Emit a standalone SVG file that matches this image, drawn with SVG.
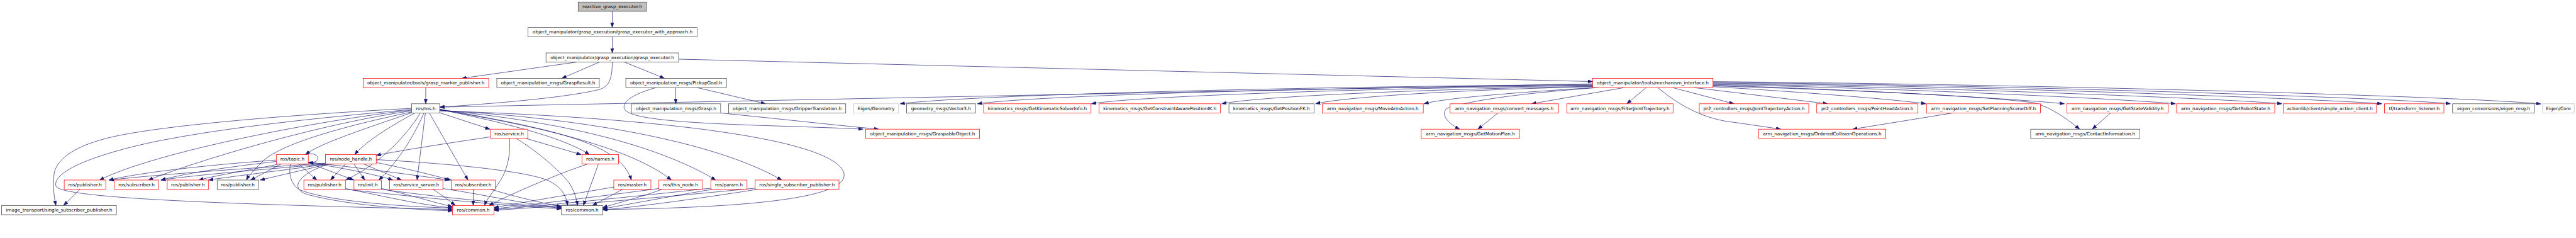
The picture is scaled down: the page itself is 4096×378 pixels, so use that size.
<svg xmlns="http://www.w3.org/2000/svg" width="4096" height="378" viewBox="0 0 4096 378">
<style>
.n rect{fill:#fff;stroke:#404040;stroke-width:1.3}
.n.r rect{stroke:#ff0000}
.n.g rect{stroke:#bfbfbf}
.n.root rect{fill:#bfbfbf}
.n text{font-family:"DejaVu Sans",sans-serif;font-size:12.7px;text-anchor:middle;dominant-baseline:central;fill:#000}
#edges path{fill:none;stroke:#191970;stroke-width:1.2;marker-end:url(#a)}
</style>
<defs>
<marker id="a" markerUnits="userSpaceOnUse" markerWidth="14" markerHeight="10" refX="13" refY="4.7" orient="auto"><path d="M0,0L13,4.7L0,9.4z" fill="#191970" stroke="#191970" stroke-width="0.8"/></marker>
</defs>
<rect width="4096" height="378" fill="#fff"/>
<g transform="scale(0.57367)">
<g id="edges">
<path d="M1697,31.3L1697,76.1"/>
<path d="M1697,101.7L1697,146.5"/>
<path d="M1597,172.1L1280,216.9"/>
<path d="M1661,172.1L1557,216.9"/>
<path d="M1697,172.1C1697,215 1690,240 1660,248C1580,268 1400,285 1218.7,296.5"/>
<path d="M1731,172.1L1842,216.9"/>
<path d="M1881,163.8L4414.5,225.8"/>
<path d="M1180,242.5L1180,287.3"/>
<path d="M1873,242.5L1873,287.3"/>
<path d="M1932,242.5L2122,287.3"/>
<path d="M1819,242.5C1760,258 1725,280 1730,300C1738,330 1900,340 2100,347C2250,352 2350,355 2392,357.7"/>
<path d="M1997,312.9C2150,328 2330,348 2436,357.7"/>
<path d="M4414.5,232L1218.7,296.6"/>
<path d="M4414.5,234C3600,240 2700,262 2494.8,287.3"/>
<path d="M4414.5,236C3700,242 2900,262 2709,287.3"/>
<path d="M4414.5,237C3800,244 3150,266 3025,287.3"/>
<path d="M4414.5,239C3900,248 3480,268 3386.4,287.3"/>
<path d="M4414.5,240C4000,250 3720,270 3646.5,287.3"/>
<path d="M4420,242.5C4200,256 4000,272 3947,287.3"/>
<path d="M4430,242.5C4300,252 4100,270 4010,300C3990,320 4020,345 4046,357.7"/>
<path d="M4501.8,242.5L4245,287.3"/>
<path d="M4563,242.5L4509,287.3"/>
<path d="M4595,242.5C4640,280 4700,320 4780,335C4850,345 4900,352 4936,357.7"/>
<path d="M4635.7,242.5L4806,287.3"/>
<path d="M4695,242.5L5066,287.3"/>
<path d="M4747.9,240C5000,255 5250,275 5338,287.3"/>
<path d="M4747.9,238C5100,248 5500,265 5640,285C5690,300 5730,330 5764.5,357.7"/>
<path d="M4747.9,236C5200,250 5600,275 5722,287.3"/>
<path d="M4747.9,234C5300,245 5900,275 6030,287.3"/>
<path d="M4747.9,232C5400,242 6200,275 6325,287.3"/>
<path d="M4747.9,230C5500,238 6450,275 6602,287.3"/>
<path d="M4747.9,228C5600,236 6650,272 6792,287.3"/>
<path d="M4747.9,226C5700,234 6850,268 7042.5,287.8"/>
<path d="M5412,312.9L5135,357.7"/>
<path d="M5850,312.9L5799,357.7"/>
<path d="M4152,312.9L4096,357.7"/>
<path d="M1141.1,300C800,318 480,345 330,375C230,395 160,430 150,480C146,520 150,545 155,568.9"/>
<path d="M1141.1,303C900,325 640,350 430,392C260,428 145,475 155,515C165,548 600,565 1254,580"/>
<path d="M1141.1,305C900,330 430,420 276,498.5"/>
<path d="M1141.1,307C900,340 560,440 411,498.5"/>
<path d="M1141.1,310C950,350 770,400 725,450C705,470 690,485 683,498.5"/>
<path d="M1141.1,312C1000,360 880,400 847,428.1"/>
<path d="M1150,312.9C1080,350 1010,395 983,428.1"/>
<path d="M1165,312.9C1130,370 1060,450 958,498.5"/>
<path d="M1175,312.9C1150,370 1110,440 1050,498.5"/>
<path d="M1179,312.9L1156,498.5"/>
<path d="M1190,312.9L1297,498.5"/>
<path d="M1218.7,312L1358,357.7"/>
<path d="M1218.7,303C1400,340 1560,380 1634,428.1"/>
<path d="M1218.7,302C1550,360 1720,400 1750,498.5"/>
<path d="M1218.7,304C1500,350 1750,410 1861,498.5"/>
<path d="M1218.7,305C1550,335 1820,400 1984,498.5"/>
<path d="M1218.7,306C1600,325 1980,390 2167,498.5"/>
<path d="M1218.7,307C1800,325 2280,380 2335,470C2380,545 2100,575 1670.3,580"/>
<path d="M766.5,443C600,455 400,475 302,498.5"/>
<path d="M766.5,447C650,460 520,478 446,498.5"/>
<path d="M775,453.7C700,470 600,485 551,498.5"/>
<path d="M780,453.7L694.5,498.5"/>
<path d="M828,453.7L878,498.5"/>
<path d="M854.5,451L981,498.5"/>
<path d="M854.5,450C950,465 1050,485 1089,498.5"/>
<path d="M854.5,449C1000,465 1150,485 1245,498.5"/>
<path d="M843,428.1C870,420 885,432 880,442C876,449 866,451 855,449"/>
<path d="M805,453.7C800,480 805,510 830,525C900,555 1100,572 1254,576"/>
<path d="M902.3,452C700,465 450,482 302,498.5"/>
<path d="M905,453.7C750,468 550,483 446,498.5"/>
<path d="M910,453.7C800,470 650,487 578,498.5"/>
<path d="M912.6,453.7L721,498.5"/>
<path d="M958,453.7L916,498.5"/>
<path d="M981,453.7L1011,498.5"/>
<path d="M1007,453.7L1113,498.5"/>
<path d="M1042.8,450C1120,465 1200,485 1250,498.5"/>
<path d="M912,453.7C830,480 800,520 850,538C950,565 1100,578 1254,584"/>
<path d="M1042.8,442C1200,450 1450,470 1520,500C1560,520 1570,545 1573,568.9"/>
<path d="M1359.5,379C1250,395 1120,415 1042.8,430"/>
<path d="M1458,383.3L1611,428.1"/>
<path d="M1412,383.3C1415,420 1410,470 1380,510C1365,535 1350,550 1343,568.9"/>
<path d="M1431,383.3C1490,420 1550,470 1580,510C1592,530 1598,550 1601,568.9"/>
<path d="M1630,453.7C1550,480 1420,535 1355,568.9"/>
<path d="M1658.8,453.7L1617,568.9"/>
<path d="M1701.3,518C1600,535 1450,560 1369.1,575"/>
<path d="M1726,524.1L1642,568.9"/>
<path d="M1826.3,522C1650,545 1450,570 1369.1,578"/>
<path d="M1835,524.1C1780,545 1700,565 1670.3,575"/>
<path d="M1970.2,521C1750,545 1450,575 1369.1,580"/>
<path d="M1975,524.1C1850,545 1720,570 1670.3,578"/>
<path d="M2093.1,521C1800,550 1450,578 1369.1,582"/>
<path d="M2100,524.1C1950,548 1750,575 1670.3,581"/>
<path d="M957.4,522C1050,540 1150,565 1254,576"/>
<path d="M957.4,524C1150,545 1400,570 1556.2,578"/>
<path d="M1057.3,522C1120,535 1200,560 1254,572"/>
<path d="M1057.3,524C1200,545 1420,565 1556.2,576"/>
<path d="M1200,524.1C1225,540 1245,555 1262,568.9"/>
<path d="M1227.5,522C1350,540 1450,565 1556.2,574"/>
<path d="M1311.7,524.1L1311.7,568.9"/>
<path d="M1360,524.1C1430,545 1500,562 1556.2,572"/>
<path d="M222,524.1L176,568.9"/>
</g>
<g id="n_root" class="n root"><rect x="1602.5" y="5.7" width="189.4" height="25.6"/><text x="1697.2" y="18.5">reactive_grasp_executor.h</text></g>
<g id="n_gewa" class="n"><rect x="1463.6" y="76.1" width="468.7" height="25.6"/><text x="1698" y="88.9">object_manipulator/grasp_execution/grasp_executor_with_approach.h</text></g>
<g id="n_ge" class="n"><rect x="1513.4" y="146.5" width="367.6" height="25.6"/><text x="1697.2" y="159.3">object_manipulator/grasp_execution/grasp_executor.h</text></g>
<g id="n_gmp" class="n r"><rect x="1006.4" y="216.9" width="348.2" height="25.6"/><text x="1180.5" y="229.7">object_manipulator/tools/grasp_marker_publisher.h</text></g>
<g id="n_gr" class="n"><rect x="1377.1" y="216.9" width="284" height="25.6"/><text x="1519.1" y="229.7">object_manipulation_msgs/GraspResult.h</text></g>
<g id="n_pg" class="n"><rect x="1734.6" y="216.9" width="278.9" height="25.6"/><text x="1874" y="229.7">object_manipulation_msgs/PickupGoal.h</text></g>
<g id="n_mi" class="n r"><rect x="4414.5" y="216.9" width="333.4" height="25.6"/><text x="4581.2" y="229.7">object_manipulator/tools/mechanism_interface.h</text></g>
<g id="n_ros" class="n"><rect x="1141.1" y="287.3" width="77.6" height="25.6"/><text x="1179.9" y="300.1">ros/ros.h</text></g>
<g id="n_grasp" class="n"><rect x="1750.3" y="287.3" width="247.1" height="25.6"/><text x="1873.9" y="300.1">object_manipulation_msgs/Grasp.h</text></g>
<g id="n_gt" class="n"><rect x="2019.6" y="287.3" width="324.5" height="25.6"/><text x="2181.9" y="300.1">object_manipulation_msgs/GripperTranslation.h</text></g>
<g id="n_eg" class="n g"><rect x="2366.3" y="287.3" width="124.3" height="25.6"/><text x="2428.5" y="300.1">Eigen/Geometry</text></g>
<g id="n_v3" class="n"><rect x="2512.8" y="287.3" width="191" height="25.6"/><text x="2608.3" y="300.1">geometry_msgs/Vector3.h</text></g>
<g id="n_gksi" class="n r"><rect x="2726.3" y="287.3" width="297.7" height="25.6"/><text x="2875.2" y="300.1">kinematics_msgs/GetKinematicSolverInfo.h</text></g>
<g id="n_gcapik" class="n r"><rect x="3046.6" y="287.3" width="336" height="25.6"/><text x="3214.6" y="300.1">kinematics_msgs/GetConstraintAwarePositionIK.h</text></g>
<g id="n_gpfk" class="n"><rect x="3406.3" y="287.3" width="236" height="25.6"/><text x="3524.3" y="300.1">kinematics_msgs/GetPositionFK.h</text></g>
<g id="n_maa" class="n r"><rect x="3664.9" y="287.3" width="280.1" height="25.6"/><text x="3805" y="300.1">arm_navigation_msgs/MoveArmAction.h</text></g>
<g id="n_cm" class="n r"><rect x="4019.3" y="287.3" width="300.7" height="25.6"/><text x="4169.7" y="300.1">arm_navigation_msgs/convert_messages.h</text></g>
<g id="n_fjt" class="n r"><rect x="4342.6" y="287.3" width="294.7" height="25.6"/><text x="4490" y="300.1">arm_navigation_msgs/FilterJointTrajectory.h</text></g>
<g id="n_jta" class="n r"><rect x="4710" y="287.3" width="303.4" height="25.6"/><text x="4861.7" y="300.1">pr2_controllers_msgs/JointTrajectoryAction.h</text></g>
<g id="n_pha" class="n r"><rect x="5035.5" y="287.3" width="280.6" height="25.6"/><text x="5175.8" y="300.1">pr2_controllers_msgs/PointHeadAction.h</text></g>
<g id="n_spsd" class="n r"><rect x="5339.8" y="287.3" width="316" height="25.6"/><text x="5497.8" y="300.1">arm_navigation_msgs/SetPlanningSceneDiff.h</text></g>
<g id="n_gsv" class="n r"><rect x="5728.9" y="287.3" width="280.4" height="25.6"/><text x="5869.1" y="300.1">arm_navigation_msgs/GetStateValidity.h</text></g>
<g id="n_grs" class="n r"><rect x="6033" y="287.3" width="272.1" height="25.6"/><text x="6169" y="300.1">arm_navigation_msgs/GetRobotState.h</text></g>
<g id="n_sac" class="n r"><rect x="6328.9" y="287.3" width="258.2" height="25.6"/><text x="6458" y="300.1">actionlib/client/simple_action_client.h</text></g>
<g id="n_tl" class="n r"><rect x="6609.3" y="287.3" width="164.6" height="25.6"/><text x="6691.6" y="300.1">tf/transform_listener.h</text></g>
<g id="n_em" class="n"><rect x="6798" y="287.3" width="227.3" height="25.6"/><text x="6911.7" y="300.1">eigen_conversions/eigen_msg.h</text></g>
<g id="n_ec" class="n g"><rect x="7047.5" y="287.3" width="87.5" height="25.6"/><text x="7091.3" y="300.1">Eigen/Core</text></g>
<g id="n_srv" class="n r"><rect x="1359.5" y="357.7" width="103.4" height="25.6"/><text x="1411.2" y="370.5">ros/service.h</text></g>
<g id="n_go" class="n r"><rect x="2399.5" y="357.7" width="315.4" height="25.6"/><text x="2557.2" y="370.5">object_manipulation_msgs/GraspableObject.h</text></g>
<g id="n_gmpl" class="n r"><rect x="3939.3" y="357.7" width="272.4" height="25.6"/><text x="4075.5" y="370.5">arm_navigation_msgs/GetMotionPlan.h</text></g>
<g id="n_oco" class="n r"><rect x="4874.4" y="357.7" width="352.5" height="25.6"/><text x="5050.7" y="370.5">arm_navigation_msgs/OrderedCollisionOperations.h</text></g>
<g id="n_ci" class="n"><rect x="5628.6" y="357.7" width="302.4" height="25.6"/><text x="5779.8" y="370.5">arm_navigation_msgs/ContactInformation.h</text></g>
<g id="n_topic" class="n r"><rect x="766.5" y="428.1" width="88" height="25.6"/><text x="810.5" y="440.9">ros/topic.h</text></g>
<g id="n_nh" class="n r"><rect x="902.3" y="428.1" width="140.5" height="25.6"/><text x="972.6" y="440.9">ros/node_handle.h</text></g>
<g id="n_names" class="n r"><rect x="1612.9" y="428.1" width="101.4" height="25.6"/><text x="1663.6" y="440.9">ros/names.h</text></g>
<g id="n_pub1" class="n r"><rect x="178" y="498.5" width="115.2" height="25.6"/><text x="235.6" y="511.3">ros/publisher.h</text></g>
<g id="n_sub1" class="n r"><rect x="316.9" y="498.5" width="122.8" height="25.6"/><text x="378.3" y="511.3">ros/subscriber.h</text></g>
<g id="n_pub2" class="n r"><rect x="463.5" y="498.5" width="114.8" height="25.6"/><text x="520.9" y="511.3">ros/publisher.h</text></g>
<g id="n_pub3" class="n"><rect x="601.9" y="498.5" width="114.8" height="25.6"/><text x="659.3" y="511.3">ros/publisher.h</text></g>
<g id="n_pub4" class="n r"><rect x="842.2" y="498.5" width="115.2" height="25.6"/><text x="899.8" y="511.3">ros/publisher.h</text></g>
<g id="n_init" class="n r"><rect x="981.1" y="498.5" width="76.2" height="25.6"/><text x="1019.2" y="511.3">ros/init.h</text></g>
<g id="n_ss" class="n r"><rect x="1079.9" y="498.5" width="147.6" height="25.6"/><text x="1153.7" y="511.3">ros/service_server.h</text></g>
<g id="n_sub2" class="n r"><rect x="1250.5" y="498.5" width="122.4" height="25.6"/><text x="1311.7" y="511.3">ros/subscriber.h</text></g>
<g id="n_master" class="n r"><rect x="1701.3" y="498.5" width="102.8" height="25.6"/><text x="1752.7" y="511.3">ros/master.h</text></g>
<g id="n_tn" class="n r"><rect x="1826.3" y="498.5" width="120.2" height="25.6"/><text x="1886.4" y="511.3">ros/this_node.h</text></g>
<g id="n_param" class="n r"><rect x="1970.2" y="498.5" width="100.3" height="25.6"/><text x="2020.4" y="511.3">ros/param.h</text></g>
<g id="n_ssp" class="n r"><rect x="2093.1" y="498.5" width="232.3" height="25.6"/><text x="2209.3" y="511.3">ros/single_subscriber_publisher.h</text></g>
<g id="n_its" class="n"><rect x="4.6" y="568.9" width="318" height="25.6"/><text x="163.6" y="581.7">image_transport/single_subscriber_publisher.h</text></g>
<g id="n_com1" class="n r"><rect x="1254.3" y="568.9" width="114.8" height="25.6"/><text x="1311.7" y="581.7">ros/common.h</text></g>
<g id="n_com2" class="n"><rect x="1556.2" y="568.9" width="114.1" height="25.6"/><text x="1613.3" y="581.7">ros/common.h</text></g>
</g>
</svg>
